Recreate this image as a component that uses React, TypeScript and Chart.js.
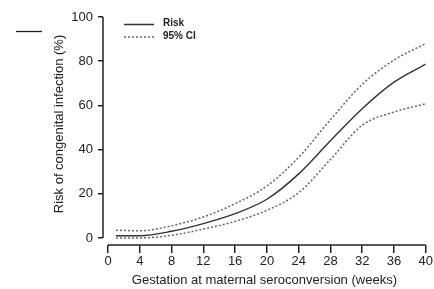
import { useEffect, useRef } from "react";
import { Chart, registerables } from "chart.js";

Chart.register(...registerables);

const weeks = [1, 4, 8, 12, 16, 20, 24, 28, 32, 36, 40];
const risk = [1, 1, 3, 6.5, 11, 17.5, 29, 44, 58.5, 70.5, 78.7];
const upperCI = [3.5, 3.2, 5.5, 9.5, 15.5, 23.5, 36.5, 53.5, 69.5, 80.5, 88];
const lowerCI = [0, 0, 1.2, 4, 7.5, 12.5, 20.5, 35.5, 51, 57, 60.7];
const xTickValues = [0, 4, 8, 12, 16, 20, 24, 28, 32, 36, 40];
const yTickValues = [0, 20, 40, 60, 80, 100];
const xTitle = "Gestation at maternal seroconversion (weeks)";
const yTitle = "Risk of congenital infection (%)";
const legendRisk = "Risk";
const legendCI = "95% CI";

const FONT = "'Liberation Sans', Arial, Helvetica, sans-serif";
const INK = "#222";

export default function App() {
  const ref = useRef<HTMLCanvasElement | null>(null);

  useEffect(() => {
    document.body.style.margin = "0";
    const canvas = ref.current;
    if (!canvas) return;
    const pts = (vals: number[]) => weeks.map((w, i) => ({ x: w, y: vals[i] }));

    const decor = {
      id: "decor",
      afterDraw(chart: any) {
        const { ctx, chartArea, scales } = chart;
        const x = scales.x;
        const y = scales.y;
        ctx.save();
        ctx.strokeStyle = INK;
        ctx.lineWidth = 1.5;
        // y axis line (0..100)
        const ax = chartArea.left;
        ctx.beginPath();
        ctx.moveTo(ax, y.getPixelForValue(100));
        ctx.lineTo(ax, y.getPixelForValue(0));
        ctx.stroke();
        // x axis line (0..40)
        const ay = chartArea.bottom;
        ctx.beginPath();
        ctx.moveTo(x.getPixelForValue(0), ay);
        ctx.lineTo(x.getPixelForValue(40), ay);
        ctx.stroke();
        // stray mark at top-left
        ctx.lineWidth = 1.3;
        ctx.beginPath();
        ctx.moveTo(16, 31.5);
        ctx.lineTo(42, 31.5);
        ctx.stroke();
        // y axis title
        ctx.save();
        ctx.translate(59, 124);
        ctx.rotate(-Math.PI / 2);
        ctx.fillStyle = INK;
        ctx.font = `13px ${FONT}`;
        ctx.textAlign = "center";
        ctx.textBaseline = "middle";
        ctx.fillText(yTitle, 0, 0);
        ctx.restore();
        // legend
        ctx.lineWidth = 1.5;
        ctx.strokeStyle = "#333";
        ctx.beginPath();
        ctx.moveTo(124, 24.5);
        ctx.lineTo(154, 24.5);
        ctx.stroke();
        ctx.strokeStyle = "#666";
        ctx.setLineDash([2, 2]);
        ctx.beginPath();
        ctx.moveTo(124, 37);
        ctx.lineTo(154, 37);
        ctx.stroke();
        ctx.setLineDash([]);
        ctx.fillStyle = INK;
        ctx.font = `bold 10px ${FONT}`;
        ctx.textBaseline = "middle";
        ctx.textAlign = "left";
        ctx.fillText(legendRisk, 163, 23);
        ctx.fillText(legendCI, 163, 36);
        ctx.restore();
      },
    };

    const chart = new Chart(canvas, {
      type: "line",
      data: {
        datasets: [
          {
            label: legendRisk,
            data: pts(risk),
            borderColor: "#333",
            borderWidth: 1.4,
            pointRadius: 0,
            cubicInterpolationMode: "monotone",
            fill: false,
          },
          {
            label: legendCI,
            data: pts(upperCI),
            borderColor: "#666",
            borderWidth: 1.5,
            borderDash: [2, 2],
            pointRadius: 0,
            cubicInterpolationMode: "monotone",
            fill: false,
          },
          {
            label: legendCI + " lower",
            data: pts(lowerCI),
            borderColor: "#666",
            borderWidth: 1.5,
            borderDash: [2, 2],
            pointRadius: 0,
            cubicInterpolationMode: "monotone",
            fill: false,
          },
        ],
      },
      options: {
        animation: false,
        responsive: false,
        devicePixelRatio: 1,
        layout: { padding: { top: 17, right: 7, left: 0, bottom: 0 } },
        plugins: { legend: { display: false }, tooltip: { enabled: false } },
        scales: {
          x: {
            type: "linear",
            min: -0.63,
            max: 40,
            afterBuildTicks: (s: any) => {
              s.ticks = xTickValues.map((v) => ({ value: v }));
            },
            afterFit: (s: any) => {
              s.height = 44;
            },
            border: { display: false },
            grid: {
              drawOnChartArea: false,
              drawTicks: true,
              tickLength: 8,
              color: INK,
              lineWidth: 1.5,
            },
            ticks: {
              padding: 1,
              color: INK,
              font: { family: FONT, size: 13 },
              maxRotation: 0,
              autoSkip: false,
            },
            title: {
              display: true,
              text: xTitle,
              color: INK,
              font: { family: FONT, size: 13 },
              padding: { top: 0, bottom: 1.2 },
            },
          },
          y: {
            type: "linear",
            min: -3.2,
            max: 100,
            afterBuildTicks: (s: any) => {
              s.ticks = yTickValues.map((v) => ({ value: v }));
            },
            afterFit: (s: any) => {
              s.width = 103;
            },
            border: { display: false },
            grid: {
              drawOnChartArea: false,
              drawTicks: true,
              tickLength: 5,
              color: INK,
              lineWidth: 1.5,
            },
            ticks: {
              padding: 5,
              color: INK,
              font: { family: FONT, size: 13 },
              autoSkip: false,
            },
            title: { display: false },
          },
        },
      },
      plugins: [decor],
    } as any);

    return () => chart.destroy();
  }, []);

  return (
    <div style={{ position: "absolute", left: 0, top: 0, width: 434, height: 289, background: "#fff" }}>
      <canvas ref={ref} width={434} height={289} style={{ display: "block", width: 434, height: 289 }} />
    </div>
  );
}
